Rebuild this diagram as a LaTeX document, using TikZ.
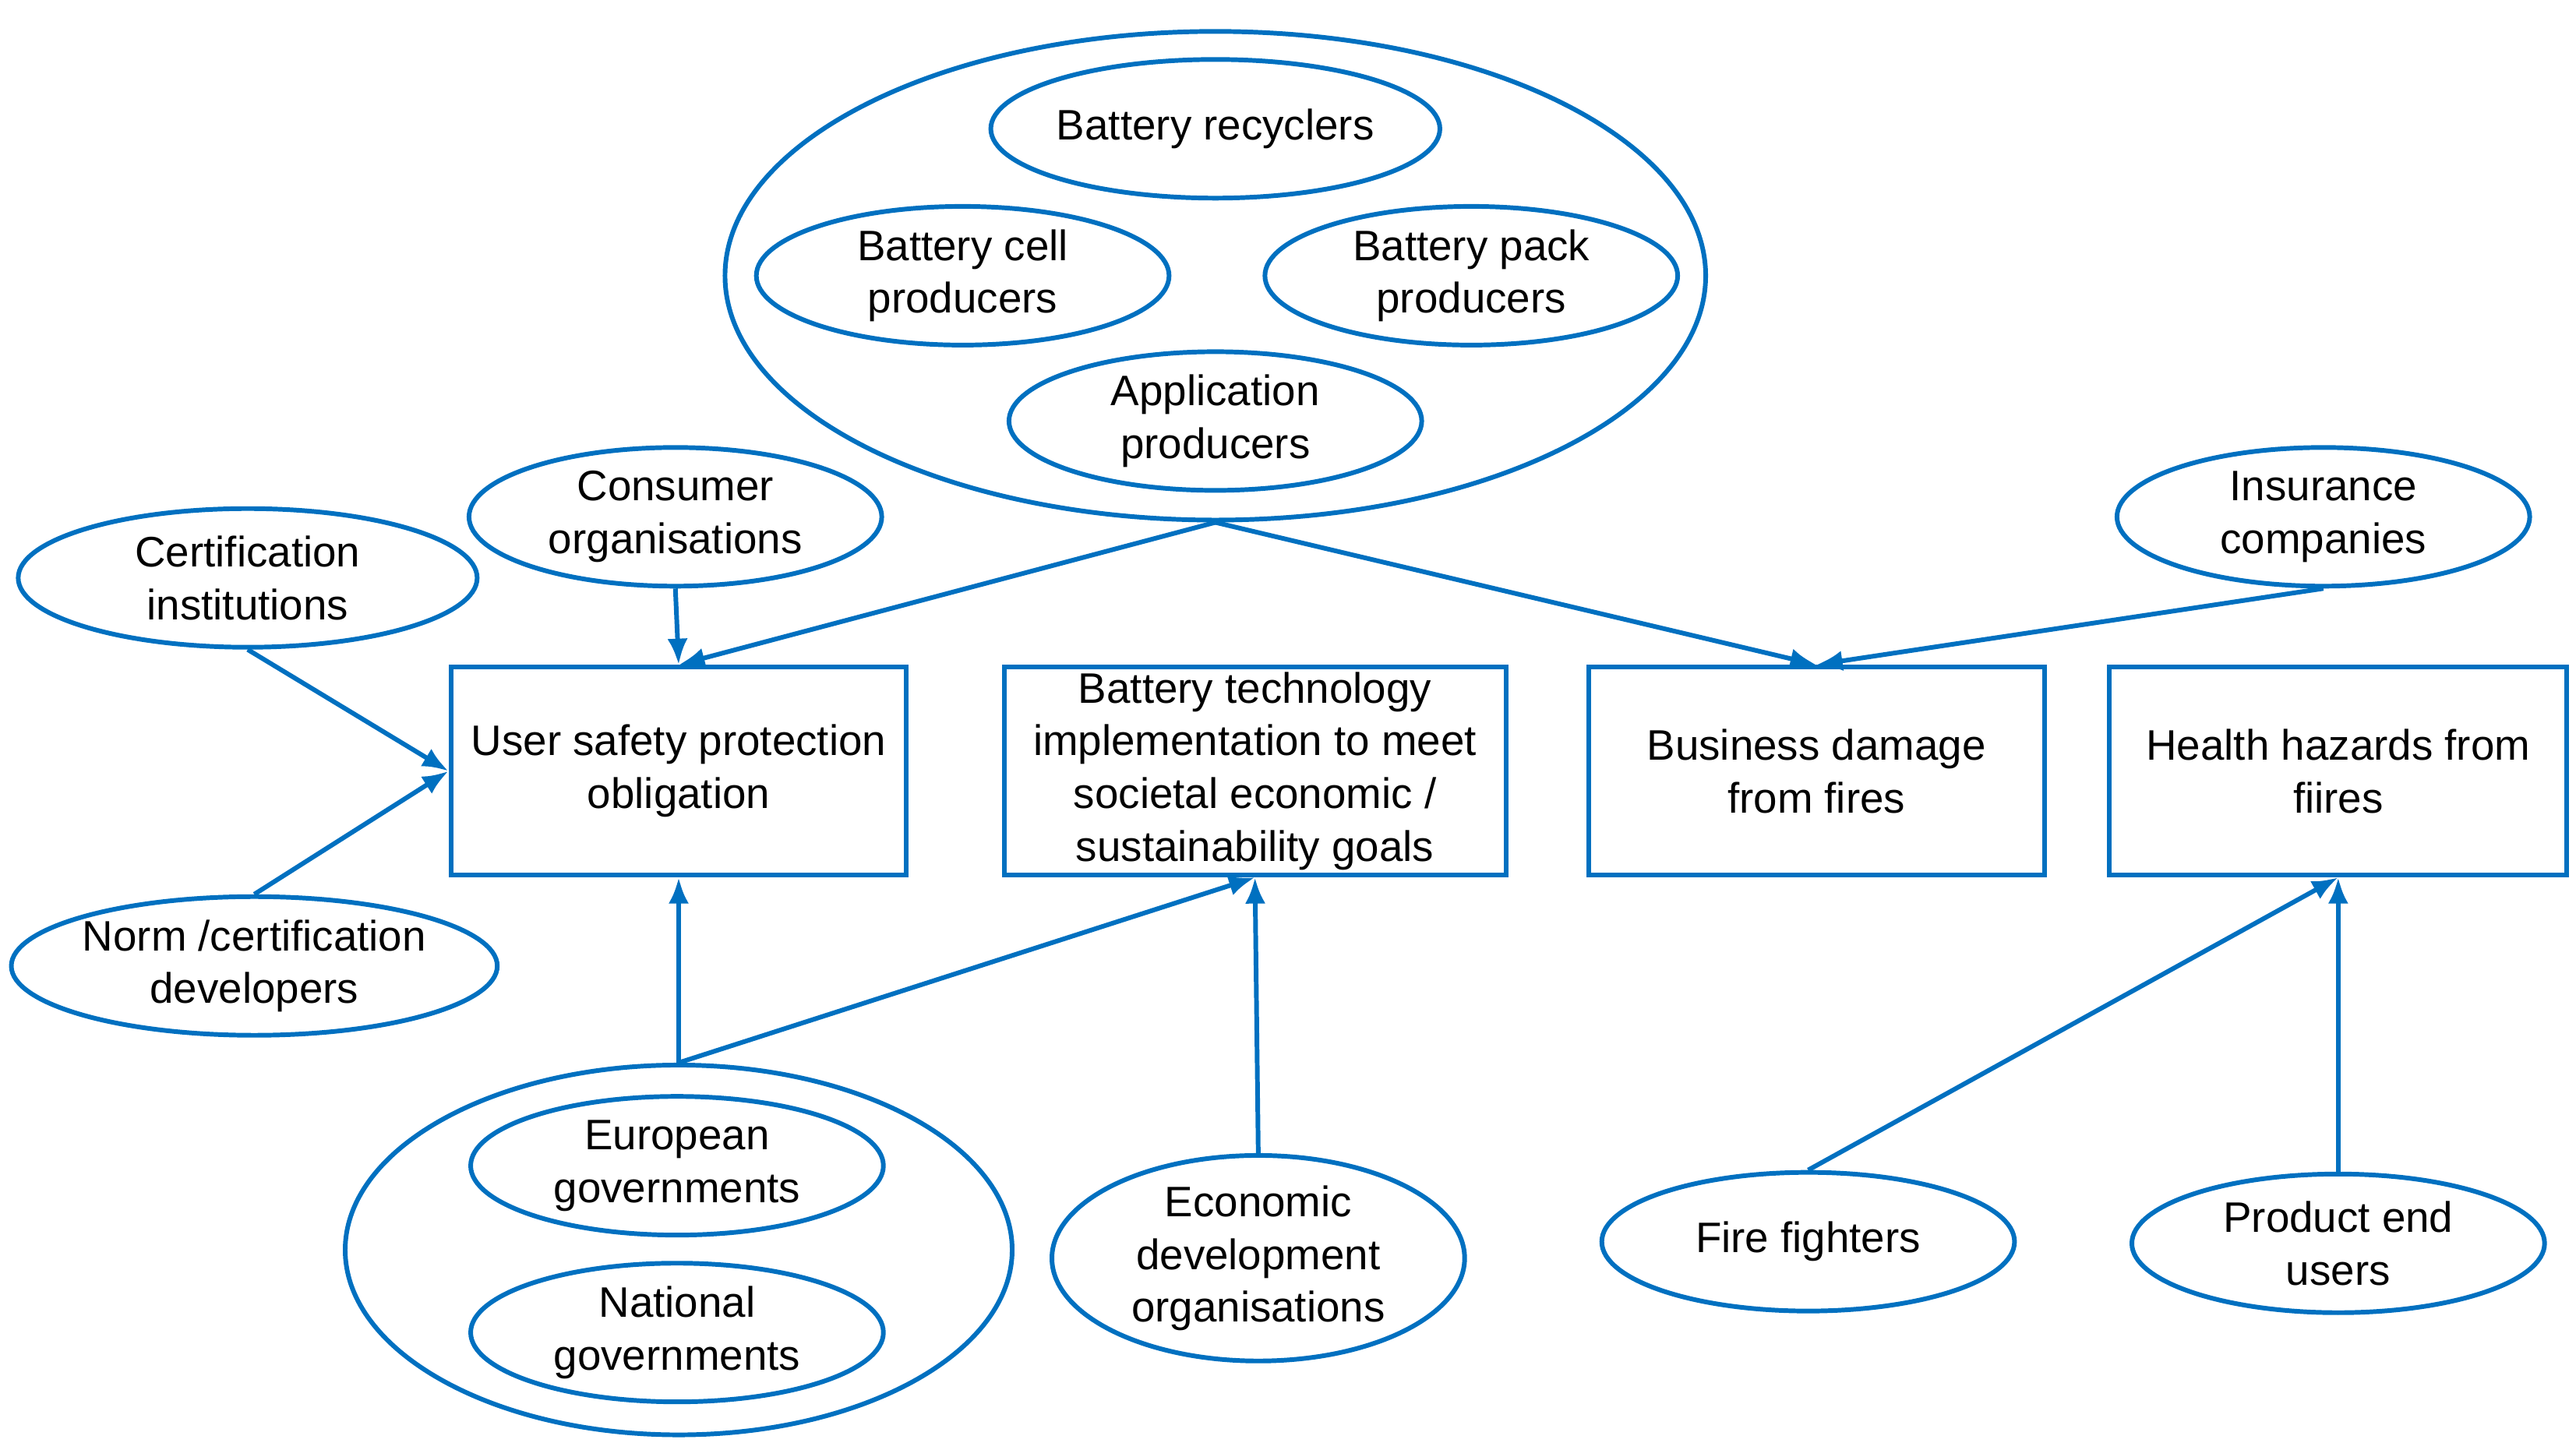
\documentclass[tikz,border=0pt]{standalone}
\usepackage{fontspec}
\setmainfont{Liberation Sans}
\usetikzlibrary{shapes.geometric,arrows.meta}
\definecolor{bl}{RGB}{0,112,192}
\begin{document}
\begin{tikzpicture}[x=0.02cm,y=-0.02cm,
  every node/.style={font=\fontsize{14.7}{18.2}\selectfont,align=center,inner sep=0pt},
  el/.style={draw=bl,line width=1.6pt,ellipse,minimum width=250\pgflinewidth*0+5cm,minimum height=1.68cm},
  bx/.style={draw=bl,line width=1.6pt,rectangle,minimum width=5.52cm,minimum height=2.52cm},
  ar/.style={draw=bl,line width=1.6pt,-{Latex[length=9pt,width=7pt]}}]
\useasboundingbox (0,0) rectangle (1560,878);
\node[el,minimum width=11.88cm,minimum height=5.92cm] (big) at (736,167) {};
\node[el] (rec) at (736,78) {Battery recyclers};
\node[el] (cell) at (583,167) {Battery cell\\producers};
\node[el] (pack) at (891,167) {Battery pack\\producers};
\node[el] (app) at (736,255) {Application\\producers};
\node[el] (cons) at (409,313) {Consumer\\organisations};
\node[el,minimum width=5.56cm] (cert) at (150,350) {Certification\\institutions};
\node[el,minimum width=5.56cm] (norm) at (154,585) {Norm /certification\\developers};
\node[el] (ins) at (1407,313) {Insurance\\companies};
\node[bx] (usp) at (411,467) {User safety protection\\obligation};
\node[bx,minimum width=6.08cm] (bt) at (760,467) {Battery technology\\implementation to meet\\societal economic /\\sustainability goals};
\node[bx] (bd) at (1100,467) {Business damage\\from fires};
\node[bx,minimum width=5.54cm] (hh) at (1416,467) {Health hazards from\\fiires};
\node[el,minimum width=8.08cm,minimum height=4.48cm] (gov) at (411,757) {};
\node[el] (eu) at (410,706) {European\\governments};
\node[el] (nat) at (410,807) {National\\governments};
\node[el,minimum height=2.48cm] (eco) at (762,762) {Economic\\development\\organisations};
\node[el] (ff) at (1095,752) {Fire fighters};
\node[el] (peu) at (1416,753) {Product end\\users};
\draw[ar] (big.south) -- (usp.north);
\draw[ar] (big.south) -- (bd.north);
\draw[ar] (ins.south) -- (bd.north);
\draw[ar] (cons.south) -- (usp.north);
\draw[ar] (cert.south) -- (usp.west);
\draw[ar] (norm.north) -- (usp.west);
\draw[ar] (gov.north) -- (usp.south);
\draw[ar] (gov.north) -- (bt.south);
\draw[ar] (eco.north) -- (bt.south);
\draw[ar] (ff.north) -- (hh.south);
\draw[ar] (peu.north) -- (hh.south);
\end{tikzpicture}
\end{document}
